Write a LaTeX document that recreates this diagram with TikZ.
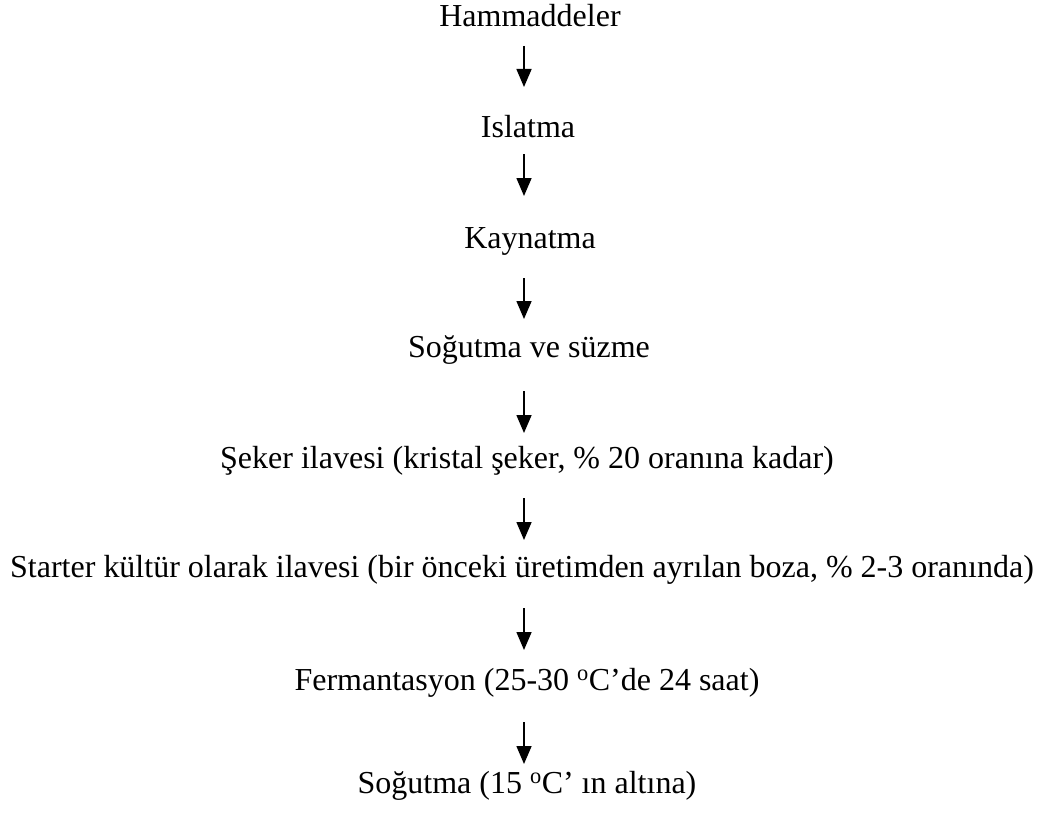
\documentclass[tikz,border=0pt]{standalone}
\usepackage{fontspec}
\setmainfont{Liberation Serif}
\usetikzlibrary{arrows.meta}
\begin{document}
\begin{tikzpicture}[x=1pt,y=-1pt,
  lbl/.style={anchor=base,inner sep=0pt,font=\fontsize{32}{38}\selectfont},
  arr/.style={line width=1.6pt,-{Triangle[width=15pt,length=18pt]}}]
\useasboundingbox (0,0) rectangle (1041,816);
\node[lbl] (n1) at (530,27) {Hammaddeler};
\node[lbl] (n2) at (528,137) {Islatma};
\node[lbl] (n3) at (530,248) {Kaynatma};
\node[lbl] (n4) at (529,357) {Soğutma ve süzme};
\node[lbl] (n5) at (527,468) {Şeker ilavesi (kristal şeker, \% 20 oranına kadar)};
\node[lbl] (n6) at (522,577) {Starter kültür olarak ilavesi (bir önceki üretimden ayrılan boza, \% 2-3 oranında)};
\node[lbl] (n7) at (527,690) {Fermantasyon (25-30 \textsuperscript{o}C’de 24 saat)};
\node[lbl] (n8) at (527,793) {Soğutma (15 \textsuperscript{o}C’ ın altına)};
\coordinate (s1) at (524,46);  \coordinate (e1) at (524,87);
\coordinate (s2) at (524,154); \coordinate (e2) at (524,196);
\coordinate (s3) at (524,278); \coordinate (e3) at (524,319);
\coordinate (s4) at (524,391); \coordinate (e4) at (524,433);
\coordinate (s5) at (524,498); \coordinate (e5) at (524,540);
\coordinate (s6) at (524,608); \coordinate (e6) at (524,650);
\coordinate (s7) at (524,722); \coordinate (e7) at (524,764);
\foreach \i in {1,...,7} \draw[arr] (s\i) -- (e\i);
\end{tikzpicture}
\end{document}
